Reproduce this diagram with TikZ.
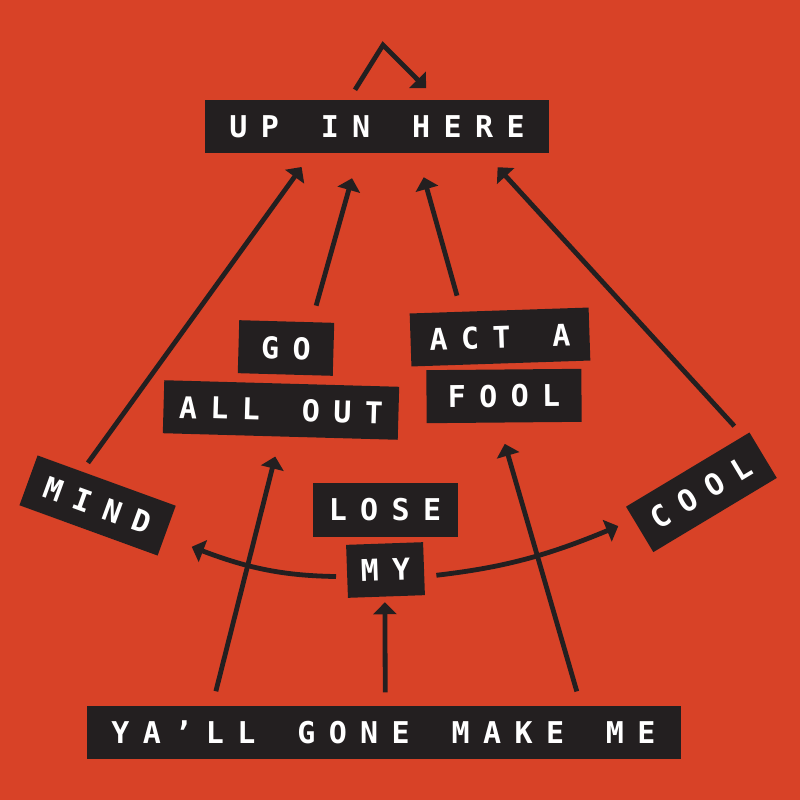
\documentclass[tikz,border=0pt]{standalone}
\usepackage{fontspec}
\usetikzlibrary{arrows.meta, calc}

\newfontfamily\tagfont{DejaVu Sans Mono}[LetterSpace=44.7, WordSpace=1.33]
\newcommand\tagtype{\tagfont\bfseries\fontsize{30}{30}\selectfont}
\definecolor{bgred}{HTML}{D84227}
\definecolor{tagblack}{HTML}{231F20}

\tikzset{
  tag/.style={fill=tagblack, text=white, inner sep=0pt, minimum height=53pt, font=\tagtype},
  arr/.style={draw=tagblack, line width=4.8pt, -{Triangle[length=12pt,width=23pt]}},
}

\begin{document}
\begin{tikzpicture}[x=1pt,y=-1pt]

    \fill[bgred] (0,0) rectangle (800,800);
    \useasboundingbox (0,0) rectangle (800,800);

    \node[tag, minimum width=344pt] (up) at (377,126.5) {UP IN HERE};

    \node[tag, minimum width=95pt, rotate=-1.6] (go) at (286,348) {GO};
    \node[tag, minimum width=235pt, rotate=-1.6] (allout) at (281,410) {ALL OUT};
    \node[tag, minimum width=179pt, rotate=1.9] (acta) at (500,337) {ACT A};
    \node[tag, minimum width=155pt, rotate=0.5] (fool) at (504,396) {FOOL};

    \node[tag, minimum width=147pt, rotate=-20] (mind) at (97.6,505.5) {MIND};
    \node[tag, minimum width=145pt, minimum height=54pt] (lose) at (385,510) {LOSE};
    \node[tag, minimum width=77pt, rotate=2] (my) at (385.5,570) {MY};
    \node[tag, minimum width=144pt, rotate=31] (cool) at (701.4,492.3) {COOL};

    \node[tag, minimum width=594pt] (yall) at (383.5,732) {YA’LL GONE MAKE ME};

    % loop over the top
    \coordinate (looptop) at (383,45);
    \draw[arr, shorten <=11.8pt, shorten >=16.4pt] ($(up.north west)!0.418!(up.north east)$) -- (looptop) -- ($(up.north west)!0.676!(up.north east)$);

    % into UP IN HERE
    \draw[arr, shorten <=10.5pt, shorten >=17pt] ($(mind.north west)!0.32!(mind.north east)$) -- ($(up.south west)!0.31!(up.south east)$);
    \draw[arr, shorten <=17pt, shorten >=26pt] ($(go.north west)!0.76!(go.north east)$) -- ($(up.south west)!0.448!(up.south east)$);
    \draw[arr, shorten <=16.5pt, shorten >=25pt] ($(acta.north west)!0.29!(acta.north east)$) -- ($(up.south west)!0.616!(up.south east)$);
    \draw[arr, shorten <=13.3pt, shorten >=19pt] ($(cool.north west)!0.95!(cool.north east)$) -- ($(up.south west)!0.813!(up.south east)$);

    % out of the bottom line
    \draw[arr, shorten <=14.5pt, shorten >=20.5pt] ($(yall.north west)!0.212!(yall.north east)$) -- ($(allout.south west)!0.5!(allout.south east)$);
    \draw[arr, shorten <=13pt, shorten >=5.5pt] ($(yall.north west)!0.503!(yall.north east)$) -- ($(my.south west)!0.48!(my.south east)$);
    \draw[arr, shorten <=14.5pt, shorten >=22pt] ($(yall.north west)!0.832!(yall.north east)$) -- ($(fool.south west)!0.464!(fool.south east)$);

    % my mind, my cool
    \coordinate (mindtip) at ($(mind.south east)+(34,-9)$);
    \coordinate (cooltip) at ($(cool.north west)+(-7.5,19.5)$);
    \draw[arr, shorten <=11pt] ($(my.south west)!0.4!(my.north west)$) to[bend left=10] (mindtip);
    \draw[arr, shorten <=12pt] ($(my.south east)!0.35!(my.north east)$) to[bend right=8] (cooltip);

\end{tikzpicture}
\end{document}
